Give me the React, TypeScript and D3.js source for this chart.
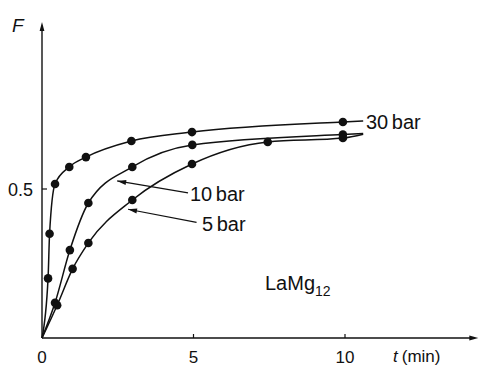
import React from "react";
import * as d3 from "d3";

// Measured points (t in min, F fraction)
const t30 = [0.2, 0.25, 0.43, 0.9, 1.45, 2.95, 4.95, 9.93];
const f30 = [0.2, 0.35, 0.517, 0.574, 0.607, 0.661, 0.691, 0.725];
const t10 = [0.43, 0.92, 1.53, 2.98, 4.96, 9.93];
const f10 = [0.118, 0.295, 0.453, 0.574, 0.648, 0.683];
const t5 = [0.5, 1.01, 1.53, 2.98, 4.95, 7.45, 9.93];
const f5 = [0.11, 0.232, 0.319, 0.463, 0.584, 0.658, 0.671];
// curve end values (fitted lines extend past last point)
const curveEndT = 10.6;
const end30 = 0.728;
const end10 = 0.686;
const end5 = 0.684;

const xTicks = [0, 5, 10];
const yTicks = [0.5];

const W = 480, H = 368;
const FONT = "'Liberation Sans', Arial, sans-serif";

export default function App() {
  const x = d3.scaleLinear().domain([0, 10]).range([42, 345]);
  const y = d3.scaleLinear().domain([0, 1]).range([338, 40]);
  const line = d3
    .line<[number, number]>()
    .x((d) => x(d[0]))
    .y((d) => y(d[1]))
    .curve(d3.curveMonotoneX);

  const mk = (ts: number[], fs: number[], e: number): [number, number][] => [
    [0, 0],
    ...ts.map((t, i) => [t, fs[i]] as [number, number]),
    [curveEndT, e],
  ];
  const series = [
    { ts: t30, fs: f30, e: end30 },
    { ts: t10, fs: f10, e: end10 },
    { ts: t5, fs: f5, e: end5 },
  ];

  const x0 = x(0), y0 = y(0);
  const xEnd = x(14.4);
  const yTop = y(1.06);

  const arrows = [
    { from: [4.82, 0.487], to: [2.48, 0.527] },
    { from: [5.1, 0.388], to: [2.84, 0.432] },
  ];

  const arrowHead = (fx: number, fy: number, tx: number, ty: number, len = 8, wid = 2.6) => {
    const ang = Math.atan2(ty - fy, tx - fx);
    const bx = tx - len * Math.cos(ang), by = ty - len * Math.sin(ang);
    const px = -Math.sin(ang) * wid, py = Math.cos(ang) * wid;
    return `M${tx},${ty}L${bx + px},${by + py}L${bx - px},${by - py}Z`;
  };

  return (
    <svg width={W} height={H} style={{ position: "absolute", left: 0, top: 0, background: "#fff" }} fontFamily={FONT}>
      <rect width={W} height={H} fill="#fff" />
      {/* axes */}
      <line x1={x0} y1={y0} x2={xEnd - 4} y2={y0} stroke="#111" strokeWidth={1.4} />
      <line x1={x0} y1={y0} x2={x0} y2={yTop + 4} stroke="#111" strokeWidth={1.4} />
      <path d={arrowHead(x0, y0, xEnd, y0, 9, 2.4)} fill="#111" />
      <path d={arrowHead(x0, y0, x0, yTop, 9, 2.4)} fill="#111" />
      {xTicks.filter((t) => t > 0).map((t) => (
        <line key={t} x1={x(t)} x2={x(t)} y1={y0} y2={y0 - 4} stroke="#111" strokeWidth={1.2} />
      ))}
      {yTicks.map((v) => (
        <line key={v} x1={x0} x2={x0 + 5} y1={y(v)} y2={y(v)} stroke="#111" strokeWidth={1.2} />
      ))}
      {xTicks.map((t) => (
        <text key={t} x={x(t)} y={363} fontSize={17} textAnchor="middle" fill="#111">
          {t}
        </text>
      ))}
      {yTicks.map((v) => (
        <text key={v} x={33} y={y(v) + 7} fontSize={18} textAnchor="end" fill="#111">
          {v}
        </text>
      ))}
      <text x={12} y={32} fontSize={19} fontStyle="italic" fill="#111">F</text>
      <text x={393} y={362} fontSize={17} fill="#111">
        <tspan fontStyle="italic">t</tspan>
        <tspan dx={4}>(min)</tspan>
      </text>

      {/* curves */}
      {series.map((s, i) => (
        <path key={i} d={line(mk(s.ts, s.fs, s.e)) || ""} fill="none" stroke="#111" strokeWidth={1.5} />
      ))}
      {series.map((s, i) =>
        s.ts.map((t, j) => <circle key={`${i}-${j}`} cx={x(t)} cy={y(s.fs[j])} r={4.3} fill="#111" />)
      )}

      {/* annotations */}
      {arrows.map((a, i) => {
        const fx = x(a.from[0]), fy = y(a.from[1]), tx = x(a.to[0]), ty = y(a.to[1]);
        return (
          <g key={i}>
            <line x1={fx} y1={fy} x2={tx} y2={ty} stroke="#111" strokeWidth={1.2} />
            <path d={arrowHead(fx, fy, tx, ty, 9, 2.5)} fill="#111" />
          </g>
        );
      })}
      <text x={366} y={129} fontSize={20} fill="#111" wordSpacing={-2}>30 bar</text>
      <text x={190} y={201} fontSize={20} fill="#111" wordSpacing={-2}>10 bar</text>
      <text x={202} y={231} fontSize={20} fill="#111" wordSpacing={-2}>5 bar</text>
      <text x={265} y={290} fontSize={20} fill="#111">
        LaMg<tspan fontSize={14} dy={6}>12</tspan>
      </text>
    </svg>
  );
}
